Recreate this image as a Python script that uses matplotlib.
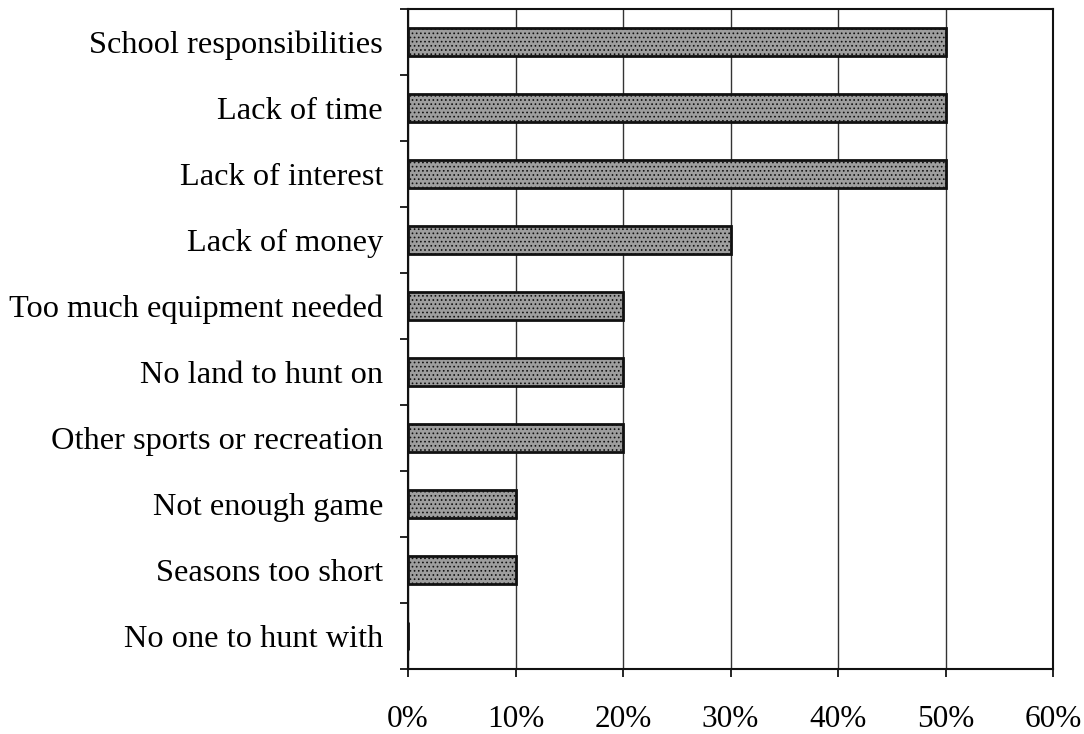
import matplotlib.pyplot as plt
import numpy as np

# reasons, top to bottom as shown
reasons = ["School responsibilities", "Lack of time", "Lack of interest",
           "Lack of money", "Too much equipment needed", "No land to hunt on",
           "Other sports or recreation", "Not enough game", "Seasons too short",
           "No one to hunt with"]
percent = [50, 50, 50, 30, 20, 20, 20, 10, 10, 0]
xticks = [0, 10, 20, 30, 40, 50, 60]

plt.rcParams['font.family'] = ['Liberation Serif', 'DejaVu Serif']
plt.rcParams['hatch.color'] = '#555555'
plt.rcParams['hatch.linewidth'] = 0.7

fig = plt.figure(figsize=(10.84, 7.34), dpi=100)
ax = fig.add_axes([408/1084, 1 - 669/734, (1053-408)/1084, (669-9)/734])

y = np.arange(len(reasons))
ax.barh(y, percent, height=0.42, color='#9e9e9e', edgecolor='#111111',
        linewidth=2, hatch='....', zorder=3)

ax.set_ylim(len(reasons) - 0.5, -0.5)
ax.set_xlim(0, 60)
ax.set_xticks(xticks)
ax.set_xticklabels([f"{t}%" for t in xticks], fontsize=22.5)

# category labels without ticks, ticks on the boundaries
ax.set_yticks(y)
ax.set_yticklabels(reasons, fontsize=23.3)
ax.tick_params(axis='y', which='major', length=0, pad=18)
ax.set_yticks(np.arange(-0.5, len(reasons) + 0.5, 1), minor=True)
ax.tick_params(axis='y', which='minor', length=6, width=1.2, direction='out')
ax.tick_params(axis='x', length=6, width=1.2, pad=20)

ax.grid(axis='x', color='#333333', linewidth=1.0, zorder=0)
for s in ax.spines.values():
    s.set_linewidth(1.5)
    s.set_color('#111111')

fig.savefig("out.png", dpi=100)
